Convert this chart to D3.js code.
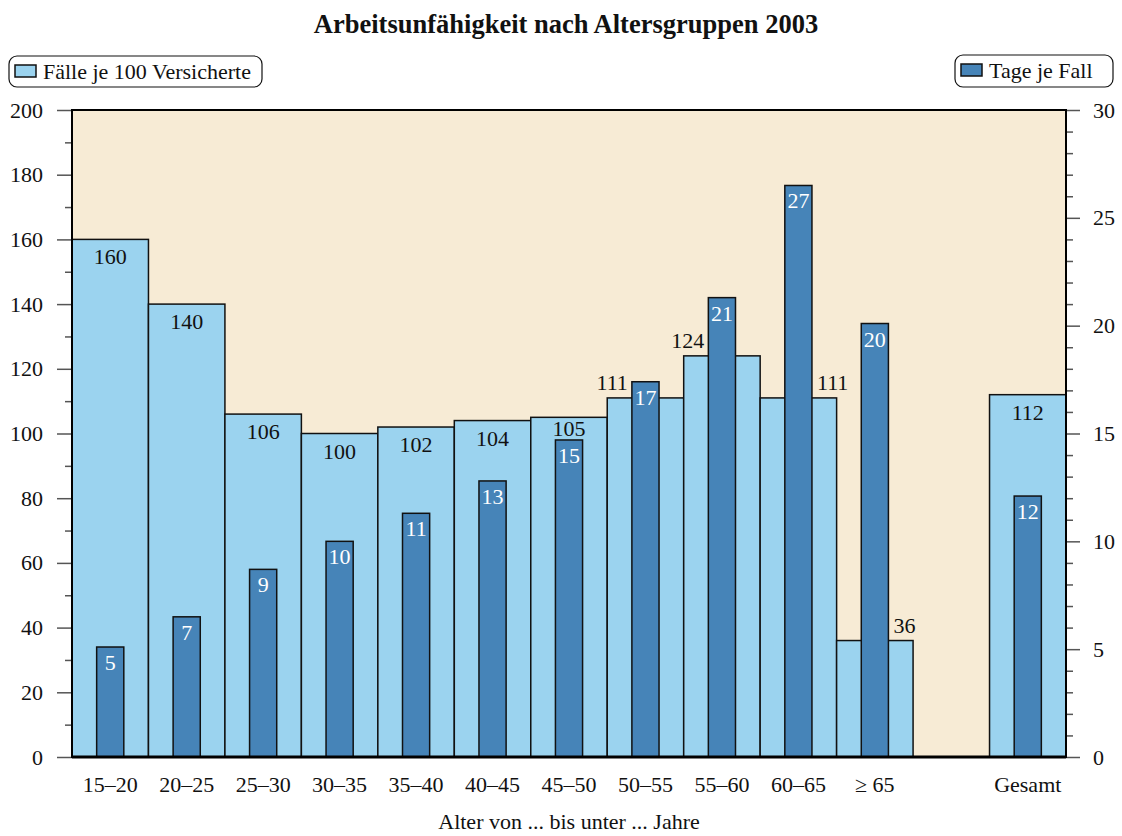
<!DOCTYPE html>
<html>
<head>
<meta charset="utf-8">
<script src="https://cdn.jsdelivr.net/npm/d3@7"></script>
<style>
  body { margin: 0; background: #fff; }
  svg text { font-family: "Liberation Serif", "Times New Roman", serif; fill: #111; }
</style>
</head>
<body>
<div id="chart"></div>
<script>
// data
var categories = ["15\u201320", "20\u201325", "25\u201330", "30\u201335", "35\u201340", "40\u201345",
                  "45\u201350", "50\u201355", "55\u201360", "60\u201365", "\u2265 65", "", "Gesamt"];
var faelle = [160, 140, 106, 100, 102, 104, 105, 111, 124, 111, 36, null, 112];
var tage = [5.1, 6.5, 8.7, 10.0, 11.3, 12.8, 14.7, 17.4, 21.3, 26.5, 20.1, null, 12.1];
var leftTicks = [0, 20, 40, 60, 80, 100, 120, 140, 160, 180, 200];
var rightTicks = [0, 5, 10, 15, 20, 25, 30];

// colours
var bgColor = "#f7ebd5";
var lightBlue = "#9bd3ef";
var darkBlue = "#4684b8";
var tickColor = "#555";
var fontSize = "22px";

var W = 1122, H = 836;
var margin = {top: 110, right: 56, bottom: 79, left: 72};
var width = W - margin.left - margin.right,
    height = H - margin.top - margin.bottom;

var svg = d3.select("#chart").append("svg")
    .attr("width", W)
    .attr("height", H);

var g = svg.append("g")
    .attr("transform", "translate(" + margin.left + "," + margin.top + ")");

// scales
var x = d3.scaleBand().domain(d3.range(categories.length)).range([0, width]).padding(0);
var yL = d3.scaleLinear().domain([0, 200]).range([height, 0]);
var yR = d3.scaleLinear().domain([0, 30]).range([height, 0]);
var darkW = x.bandwidth() * 0.355;

// title
svg.append("text")
    .attr("x", margin.left + width / 2 - 3)
    .attr("y", 33)
    .attr("text-anchor", "middle")
    .style("font-size", "26.5px")
    .style("font-weight", "bold")
    .text("Arbeitsunf\u00e4higkeit nach Altersgruppen 2003");

// legends
function legend(x0, y0, w, h, color, label) {
  var lg = svg.append("g").attr("transform", "translate(" + x0 + "," + y0 + ")");
  lg.append("rect")
      .attr("width", w).attr("height", h)
      .attr("rx", 8).attr("ry", 8)
      .attr("fill", "#fff").attr("stroke", "#111").attr("stroke-width", 1.2);
  lg.append("rect")
      .attr("x", 6).attr("y", 9)
      .attr("width", 21).attr("height", 12)
      .attr("fill", color).attr("stroke", "#111").attr("stroke-width", 1.5);
  lg.append("text")
      .attr("x", 34).attr("y", 23)
      .style("font-size", fontSize)
      .text(label);
}
legend(9, 56, 253, 31, lightBlue, "F\u00e4lle je 100 Versicherte");
legend(955, 55, 158, 32, darkBlue, "Tage je Fall");

// plot background
g.append("rect")
    .attr("width", width).attr("height", height)
    .attr("fill", bgColor);

// slots that carry data
var idx = d3.range(categories.length).filter(function(i) { return faelle[i] != null; });

// light bars (Fälle je 100 Versicherte)
g.selectAll(".light")
  .data(idx)
  .enter().append("rect")
    .attr("class", "light")
    .attr("x", function(i) { return x(i); })
    .attr("y", function(i) { return yL(faelle[i]); })
    .attr("width", x.bandwidth())
    .attr("height", function(i) { return height - yL(faelle[i]); })
    .attr("fill", lightBlue)
    .attr("stroke", "#111")
    .attr("stroke-width", 1.5);

// dark bars (Tage je Fall)
g.selectAll(".dark")
  .data(idx)
  .enter().append("rect")
    .attr("class", "dark")
    .attr("x", function(i) { return x(i) + (x.bandwidth() - darkW) / 2; })
    .attr("y", function(i) { return yR(tage[i]); })
    .attr("width", darkW)
    .attr("height", function(i) { return height - yR(tage[i]); })
    .attr("fill", darkBlue)
    .attr("stroke", "#111")
    .attr("stroke-width", 1.5);

// labels for light bars
idx.forEach(function(i) {
  var top = yL(faelle[i]);
  var darkTop = yR(tage[i]);
  var cx = x(i) + x.bandwidth() / 2;
  var t = g.append("text").style("font-size", fontSize).text(Math.round(faelle[i]));
  if (darkTop < top + 20) {
    // outside, next to the dark bar: left unless the previous bar is taller
    var prev = i > 0 ? faelle[i - 1] : null;
    if (prev != null && prev > faelle[i]) {
      t.attr("x", cx + darkW / 2 + 5).attr("text-anchor", "start");
    } else {
      t.attr("x", cx - darkW / 2 - 4).attr("text-anchor", "end");
    }
    t.attr("y", top - 8);
  } else {
    t.attr("x", cx).attr("text-anchor", "middle")
     .attr("y", Math.min(top + 25, darkTop - 4));
  }
});

// labels for dark bars
g.selectAll(".darklabel")
  .data(idx)
  .enter().append("text")
    .attr("class", "darklabel")
    .attr("x", function(i) { return x(i) + x.bandwidth() / 2; })
    .attr("y", function(i) { return yR(tage[i]) + 23; })
    .attr("text-anchor", "middle")
    .style("font-size", fontSize)
    .style("fill", "#fff")
    .text(function(i) { return Math.round(tage[i]); });

// left axis
var leftAxis = g.append("g")
    .call(d3.axisLeft(yL).tickValues(leftTicks).tickSize(15).tickPadding(14));
var leftMinor = g.append("g")
    .call(d3.axisLeft(yL).tickValues(d3.range(10, 200, 20)).tickSize(7).tickFormat(""));

// right axis
var rightAxis = g.append("g")
    .attr("transform", "translate(" + width + ",0)")
    .call(d3.axisRight(yR).tickValues(rightTicks).tickSize(14).tickPadding(13));
var rightMinor = g.append("g")
    .attr("transform", "translate(" + width + ",0)")
    .call(d3.axisRight(yR).tickValues(d3.range(0, 31).filter(function(v) { return v % 5 !== 0; }))
          .tickSize(7).tickFormat(""));

[leftAxis, leftMinor, rightAxis, rightMinor].forEach(function(a) {
  a.select(".domain").remove();
  a.selectAll("line").attr("stroke", tickColor).attr("stroke-width", 1.5);
  a.selectAll("text").style("font-size", fontSize).attr("fill", "#111");
});

// frame
g.append("rect")
    .attr("width", width).attr("height", height)
    .attr("fill", "none")
    .attr("stroke", "#000")
    .attr("stroke-width", 2);
g.append("line")
    .attr("x1", 0).attr("x2", width)
    .attr("y1", height).attr("y2", height)
    .attr("stroke", "#000").attr("stroke-width", 3);

// category labels
g.selectAll(".cat")
  .data(categories)
  .enter().append("text")
    .attr("class", "cat")
    .attr("x", function(d, i) { return x(i) + x.bandwidth() / 2; })
    .attr("y", height + 35)
    .attr("text-anchor", "middle")
    .style("font-size", fontSize)
    .text(function(d) { return d; });

// x axis title
svg.append("text")
    .attr("x", margin.left + width / 2)
    .attr("y", 829)
    .attr("text-anchor", "middle")
    .style("font-size", fontSize)
    .text("Alter von ... bis unter ... Jahre");
</script>
</body>
</html>
